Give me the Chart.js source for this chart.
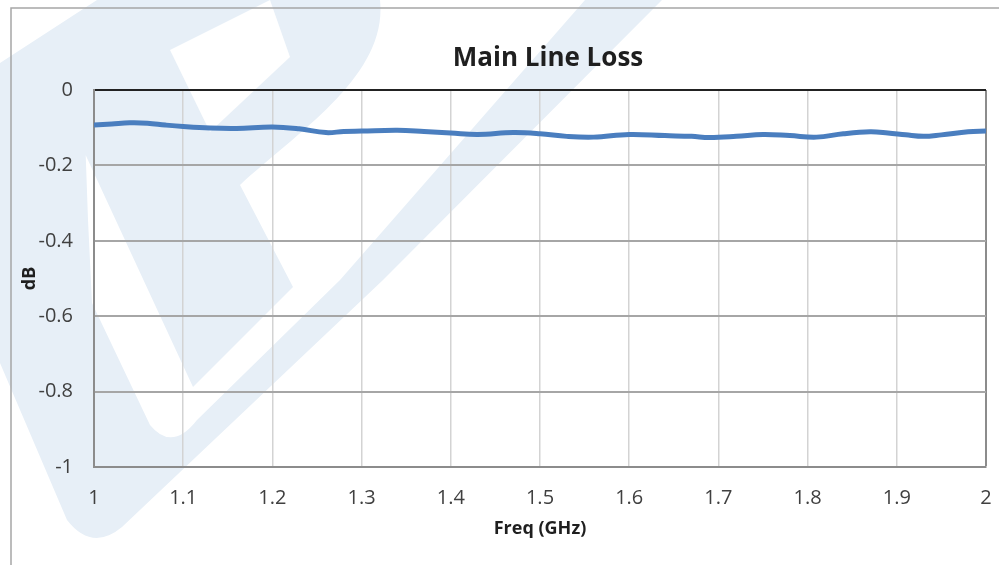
<!DOCTYPE html>
<html>
<head>
<meta charset="utf-8">
<script src="https://cdn.jsdelivr.net/npm/chart.js@4.4.1/dist/chart.umd.min.js"></script>
<style>
  html, body { margin: 0; padding: 0; background: #fff; }
  #wrap { width: 999px; height: 565px; }
</style>
</head>
<body>
<div id="wrap"><canvas id="lossChart" width="999" height="565"></canvas></div>
<script>
// valores
const freqGHz = [1.00, 1.02, 1.04, 1.06, 1.08, 1.10, 1.13, 1.16, 1.20, 1.23, 1.26, 1.28, 1.30, 1.34, 1.37,
                 1.40, 1.43, 1.47, 1.50, 1.53, 1.56, 1.60, 1.64, 1.67, 1.69, 1.72, 1.75, 1.78, 1.81, 1.84,
                 1.87, 1.89, 1.91, 1.93, 1.95, 1.98, 2.00];
const lossDb = [-0.093, -0.090, -0.087, -0.088, -0.093, -0.097, -0.101, -0.102, -0.098, -0.103, -0.113, -0.110,
                -0.109, -0.107, -0.110, -0.114, -0.118, -0.113, -0.116, -0.123, -0.125, -0.118, -0.121, -0.123,
                -0.126, -0.123, -0.118, -0.121, -0.125, -0.116, -0.111, -0.114, -0.119, -0.123, -0.119, -0.111,
                -0.109];
const xTickValues = [1, 1.1, 1.2, 1.3, 1.4, 1.5, 1.6, 1.7, 1.8, 1.9, 2];
const xTickLabels = ['1', '1.1', '1.2', '1.3', '1.4', '1.5', '1.6', '1.7', '1.8', '1.9', '2'];
const yTickValues = [0, -0.2, -0.4, -0.6, -0.8, -1];
const yTickLabels = ['0', '-0.2', '-0.4', '-0.6', '-0.8', '-1'];

const chartTitle = 'Main Line Loss';
const xTitle = 'Freq (GHz)';
const yTitle = 'dB';

// marca d'água + moldura + título
const backdrop = {
    id: 'backdrop',
    beforeDraw(chart) {
        const ctx = chart.ctx;
        ctx.save();
        ctx.fillStyle = '#ffffff';
        ctx.fillRect(0, 0, chart.width, chart.height);

        ctx.fillStyle = '#e7eff7';
        ctx.beginPath();
        ctx.moveTo(97, 0);
        ctx.lineTo(0, 63);
        ctx.lineTo(-40, 150);
        ctx.lineTo(0, 363);
        ctx.lineTo(67, 520);
        ctx.quadraticCurveTo(92, 552, 122, 527);
        ctx.lineTo(383, 280);
        ctx.lineTo(662, 0);
        ctx.lineTo(585, 0);
        ctx.lineTo(340, 280);
        ctx.lineTo(197, 420);
        ctx.quadraticCurveTo(172, 452, 150, 425);
        ctx.lineTo(92, 303);
        ctx.lineTo(88, 220);
        ctx.lineTo(85, 135);
        ctx.lineTo(62, 104);
        ctx.lineTo(193, 387);
        ctx.lineTo(293, 287);
        ctx.lineTo(240, 185);
        ctx.bezierCurveTo(300, 130, 388, 75, 380, 0);
        ctx.closePath();
        ctx.fill();

        // contra-forma do "P"
        ctx.fillStyle = '#ffffff';
        ctx.beginPath();
        ctx.moveTo(270, 0);
        ctx.lineTo(170, 50);
        ctx.lineTo(210, 132);
        ctx.lineTo(290, 57);
        ctx.closePath();
        ctx.fill();

        // moldura externa
        ctx.strokeStyle = '#a6a6a6';
        ctx.lineWidth = 1.5;
        ctx.beginPath();
        ctx.moveTo(11, 565);
        ctx.lineTo(11, 8);
        ctx.lineTo(999, 8);
        ctx.stroke();
        ctx.restore();
    },
    afterDraw(chart) {
        const ctx = chart.ctx;
        ctx.save();
        ctx.fillStyle = '#1f1f1f';
        ctx.font = 'bold 26px "Open Sans"';
        ctx.textAlign = 'center';
        ctx.textBaseline = 'middle';
        ctx.fillText(chartTitle, 548, 59);
        ctx.restore();
    }
};

const ctxLoss = document.getElementById('lossChart').getContext('2d');
new Chart(ctxLoss, {
    type: 'line',
    data: {
        datasets: [{
            label: 'Main Line Loss',
            data: freqGHz.map((f, i) => ({ x: f, y: lossDb[i] })),
            borderColor: '#4a7ebf',
            borderWidth: 5,
            pointRadius: 0,
            tension: 0.4,
            fill: false
        }]
    },
    options: {
        responsive: false,
        animation: false,
        layout: { padding: { top: 90, left: 0, right: 13, bottom: 0 } },
        plugins: {
            legend: { display: false },
            tooltip: { enabled: false }
        },
        scales: {
            x: {
                type: 'linear',
                min: 1,
                max: 2,
                afterBuildTicks: (scale) => { scale.ticks = xTickValues.map(v => ({ value: v })); },
                afterFit: (scale) => {
                    scale.height = 98;
                    scale.paddingLeft = 0;
                    scale.paddingRight = 0;
                },
                ticks: {
                    padding: 19,
                    color: '#404040',
                    font: { family: 'Open Sans', size: 20 },
                    maxRotation: 0,
                    callback: (v) => xTickLabels[xTickValues.findIndex(t => Math.abs(t - v) < 1e-6)]
                },
                grid: {
                    drawTicks: false,
                    color: (c) => (c.tick && c.tick.value === 2 ? '#8c8c8c' : '#d3d3d3'),
                    lineWidth: (c) => (c.tick && c.tick.value === 2 ? 2 : 1.5)
                },
                border: { color: '#8c8c8c', width: 2 },
                title: {
                    display: true,
                    text: xTitle,
                    color: '#1f1f1f',
                    font: { family: 'Open Sans', size: 18, weight: 'bold' },
                    padding: { top: 0, bottom: 25 }
                }
            },
            y: {
                min: -1,
                max: 0,
                afterBuildTicks: (scale) => { scale.ticks = yTickValues.map(v => ({ value: v })); },
                afterFit: (scale) => {
                    scale.width = 94;
                    scale.paddingTop = 0;
                    scale.paddingBottom = 0;
                },
                ticks: {
                    padding: 21,
                    color: '#404040',
                    font: { family: 'Open Sans', size: 20 },
                    callback: (v) => yTickLabels[yTickValues.findIndex(t => Math.abs(t - v) < 1e-6)]
                },
                grid: {
                    drawTicks: false,
                    color: (c) => (c.tick && c.tick.value === 0 ? '#222222' : '#a6a6a6'),
                    lineWidth: 2
                },
                border: { color: '#8c8c8c', width: 2 },
                title: {
                    display: true,
                    text: yTitle,
                    color: '#1f1f1f',
                    font: { family: 'Open Sans', size: 18, weight: 'bold' },
                    padding: { top: 19, bottom: 0 }
                }
            }
        }
    },
    plugins: [backdrop]
});
</script>
</body>
</html>
